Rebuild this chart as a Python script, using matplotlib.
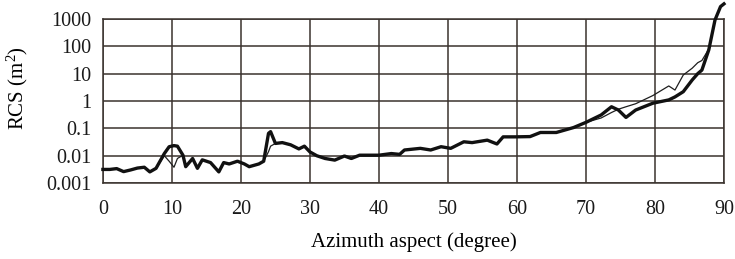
import matplotlib
matplotlib.use("Agg")
import matplotlib.pyplot as plt
import numpy as np

plt.rcParams['font.family'] = ['Liberation Serif', 'DejaVu Serif']
plt.rcParams['mathtext.fontset'] = 'custom'
plt.rcParams['mathtext.rm'] = 'Liberation Serif'
plt.rcParams['mathtext.it'] = 'Liberation Serif:italic'

# Azimuth (degree)
azimuth = [0, 1, 2, 3, 4, 5, 6, 6.8, 7.7, 8.9, 9.6, 10.3, 10.8, 11.6, 12.0, 13.0, 13.7,
           14.4, 15.6, 16.8, 17.5, 18.3, 19.5, 20.5, 21.2, 22.6, 23.3, 24.0, 24.3, 25.0,
           26.0, 27.2, 28.4, 29.2, 30, 31, 32.2, 33.6, 35, 36, 37.2, 40, 41.8, 43, 43.7,
           46, 47.5, 49, 50.4, 52.3, 53.5, 55.7, 57.1, 58, 59.7, 61.9, 63.4, 65.7, 68.2,
           70, 72.2, 73.7, 74.7, 75.8, 77.2, 79.7, 82.0, 82.9, 84.1, 85.4, 86.2, 86.8,
           87.8, 88.7, 89.5, 90.0]

# log10 RCS, thick curve
thick_log = [-2.50, -2.50, -2.47, -2.58, -2.52, -2.45, -2.42, -2.59, -2.46, -1.92, -1.67,
             -1.63, -1.65, -1.98, -2.40, -2.10, -2.46, -2.15, -2.25, -2.59, -2.25, -2.30,
             -2.20, -2.30, -2.40, -2.30, -2.20, -1.18, -1.12, -1.55, -1.52, -1.60, -1.75,
             -1.65, -1.86, -2.00, -2.10, -2.16, -2.01, -2.10, -1.98, -1.98, -1.92, -1.95,
             -1.79, -1.73, -1.79, -1.67, -1.73, -1.49, -1.52, -1.43, -1.57, -1.31, -1.31,
             -1.30, -1.15, -1.15, -0.97, -0.78, -0.51, -0.21, -0.33, -0.60, -0.33, -0.08,
             0.04, 0.15, 0.34, 0.77, 1.00, 1.13, 1.87, 2.96, 3.45, 3.55]

# log10 RCS, thin curve
thin_log = [-2.50, -2.50, -2.47, -2.58, -2.52, -2.45, -2.42, -2.59, -2.46, -2.00, -2.20,
            -2.42, -2.10, -1.98, -2.40, -2.10, -2.46, -2.15, -2.25, -2.59, -2.25, -2.30,
            -2.20, -2.30, -2.40, -2.30, -2.20, -1.85, -1.65, -1.55, -1.52, -1.60, -1.75,
            -1.65, -1.86, -2.00, -2.10, -2.16, -2.01, -2.10, -1.98, -1.98, -1.92, -1.95,
            -1.79, -1.73, -1.79, -1.67, -1.73, -1.49, -1.52, -1.43, -1.57, -1.31, -1.31,
            -1.30, -1.15, -1.15, -0.97, -0.78, -0.62, -0.42, -0.30, -0.21, -0.10, 0.20,
            0.55, 0.40, 0.95, 1.20, 1.40, 1.48, 1.90, 2.96, 3.45, 3.55]

xticks = [0, 10, 20, 30, 40, 50, 60, 70, 80, 90]
yticks = [0.001, 0.01, 0.1, 1, 10, 100, 1000]
ytick_labels = ['0.001', '0.01', '0.1', '1', '10', '100', '1000']

thick = [10 ** v for v in thick_log]
thin = [10 ** v for v in thin_log]

fig = plt.figure(figsize=(7.35, 2.59), dpi=100)
ax = fig.add_axes([0.140, 0.293, 0.845, 0.634])

ax.plot(azimuth, thin, color='#1e1e1e', lw=0.9, clip_on=False, zorder=3)
ax.plot(azimuth, thick, color='#111111', lw=2.4, clip_on=False, zorder=4,
        solid_joinstyle='round')

ax.set_yscale('log')
ax.set_xlim(0, 90)
ax.set_ylim(0.001, 1000)
ax.set_xticks(xticks)
ax.set_xticklabels([str(t) for t in xticks])
ax.set_yticks(yticks)
ax.set_yticklabels(ytick_labels)
ax.yaxis.set_minor_locator(matplotlib.ticker.NullLocator())
ax.tick_params(axis='both', length=0, labelsize=14.5, colors='#1a1a1a')
ax.tick_params(axis='x', pad=12)
ax.tick_params(axis='y', pad=8)
ax.grid(True, which='major', color='#3a332e', lw=1.1)
for s in ax.spines.values():
    s.set_color('#3a332e')
    s.set_linewidth(1.1)

ax.set_xlabel('Azimuth aspect (degree)', fontsize=15, labelpad=10)
ax.set_ylabel('RCS (m$^2$)', fontsize=15)
ax.yaxis.set_label_coords(-0.118, 0.58)

fig.savefig('out.png', dpi=100)
